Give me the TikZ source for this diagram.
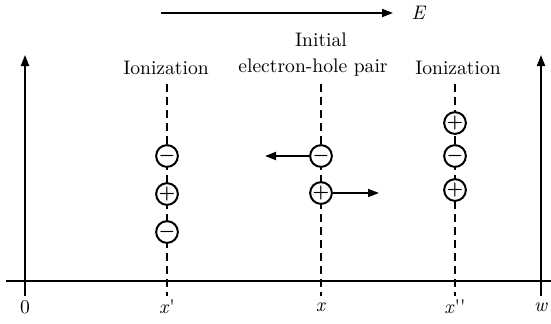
\documentclass[tikz,border=0pt]{standalone}
\usepackage{amsmath}
\usepackage{tikz}
\usetikzlibrary{arrows.meta}
\tikzset{
  axisline/.style={line width=1pt, -{Triangle[length=5.5pt,width=4pt]}},
  guideline/.style={line width=0.7pt, dash pattern=on 4pt off 2.5pt},
  charge/.style={draw, circle, line width=1pt, fill=white, minimum size=10pt, inner sep=0pt, font=\fontsize{9}{9}\selectfont},
  driftarrow/.style={line width=0.9pt, -{Triangle[length=5.5pt,width=4pt]}},
  lbl/.style={font=\fontsize{9.8}{12}\selectfont, inner sep=1pt}
}

\begin{document}
\begin{tikzpicture}[x=0.5pt, y=-0.5pt]
      \useasboundingbox (0,0) rectangle (551,323);
      % axes
      \coordinate (axL) at (6,281);
      \coordinate (axR) at (551,281);
      \coordinate (lbot) at (25,296);
      \coordinate (ltop) at (25,55);
      \coordinate (rbot) at (541,296);
      \coordinate (rtop) at (541,55);
      \draw[line width=1pt] (axL) -- (axR);
      \draw[axisline] (lbot) -- (ltop);
      \draw[axisline] (rbot) -- (rtop);
      
      % field
      \coordinate (fstart) at (161,13);
      \coordinate (fend) at (393,13);
      \node[lbl] (field) at (419,13) {\textit{E}};
      \draw[driftarrow] (fstart) -- (fend);
      
      % guide lines
      \coordinate (g1top) at (167,84);
      \coordinate (g1bot) at (167,296);
      \coordinate (g2top) at (321,84);
      \coordinate (g2bot) at (321,296);
      \coordinate (g3top) at (455,84);
      \coordinate (g3bot) at (455,296);
      \draw[guideline] (g1top) -- (g1bot);
      \draw[guideline] (g2top) -- (g2bot);
      \draw[guideline] (g3top) -- (g3bot);
      
      % titles
      \node[lbl] (ion1) at (166,68) {Ionization};
      \node[lbl] (init) at (321,40) {Initial};
      \node[lbl] (pair) at (313,68) {electron-hole pair};
      \node[lbl] (ion2) at (458,68) {Ionization};
      
      % charges
      \node[charge] (a1) at (167,156) {$\boldsymbol{-}$};
      \node[charge] (a2) at (167,194) {$\boldsymbol{+}$};
      \node[charge] (a3) at (167,232) {$\boldsymbol{-}$};
      \node[charge] (b1) at (321,156) {$\boldsymbol{-}$};
      \node[charge] (b2) at (321,193) {$\boldsymbol{+}$};
      \node[charge] (c1) at (455,123) {$\boldsymbol{+}$};
      \node[charge] (c2) at (455,156) {$\boldsymbol{-}$};
      \node[charge] (c3) at (455,190) {$\boldsymbol{+}$};
      
      \coordinate (eend) at (265,156);
      \coordinate (hend) at (379,193);
      \draw[driftarrow] (b1) -- (eend);
      \draw[driftarrow] (b2) -- (hend);
      
      % ticks
      \node[lbl] (t0) at (25,307) {0};
      \node[lbl] (t1) at (167,307) {\textit{x}\textquotesingle};
      \node[lbl] (t2) at (321,307) {\textit{x}};
      \node[lbl] (t3) at (455,307) {\textit{x}\textquotesingle\textquotesingle};
      \node[lbl] (tw) at (541,307) {\textit{w}};
    \end{tikzpicture}
\end{document}
